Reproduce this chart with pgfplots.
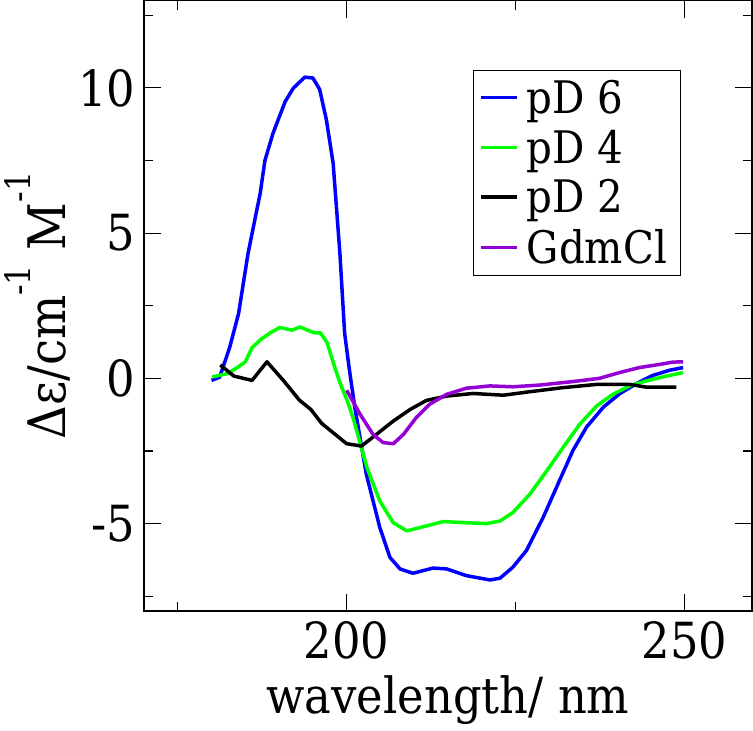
\documentclass[border=0pt]{standalone}
\usepackage{fontspec}
\setmainfont{DejaVu Serif Condensed}
\usepackage{pgfplots}
\pgfplotsset{compat=1.18}
\definecolor{gblue}{RGB}{0,0,255}
\definecolor{ggreen}{RGB}{0,255,0}
\definecolor{gviolet}{RGB}{148,0,211}
\begin{document}
\begin{tikzpicture}
\begin{axis}[
  scale only axis, width=608bp, height=610bp,
  xmin=170, xmax=260, ymin=-8, ymax=13,
  xtick={200,250}, xticklabels={200,250},
  minor xtick={175,225},
  ytick={-5,0,5,10}, yticklabels={-5,0,5,10},
  minor ytick={-7.5,-2.5,2.5,7.5,12.5},
  tick align=inside,
  major tick length=17bp, minor tick length=9bp,
  every tick/.style={black, line width=1.2bp},
  axis line style={line width=1.5bp},
  tick label style={font=\fontsize{50}{50}\selectfont},
  xticklabel style={yshift=-7bp},
  yticklabel style={xshift=-5bp},
  xlabel={wavelength/ nm},
  xlabel style={font=\fontsize{50}{50}\selectfont, inner sep=2bp, yshift=-11bp},
  ylabel={Δε/cm\raisebox{35bp}{\fontsize{35}{35}\selectfont -1} M\raisebox{35bp}{\fontsize{35}{35}\selectfont -1}},
  ylabel style={font=\fontsize{52}{52}\selectfont, inner sep=1bp, yshift=4bp},
  legend style={at={(rel axis cs:0.541,0.887)}, anchor=north west,
    draw=black, line width=1bp, fill=white,
    font=\fontsize{45}{45}\selectfont, inner xsep=6bp, inner ysep=10bp,
    row sep=15bp, nodes={inner xsep=8bp, inner ysep=0bp}},
  legend cell align=left,
  legend image code/.code={\draw[#1, line width=3.5bp] (0bp,0bp) -- (36bp,0bp);},
  every axis plot/.append style={line width=3.5bp, line join=round},
]
% pD 6
\addplot[gblue] coordinates {
(180.0,-0.07) (181.2,0.04) (182.7,1.08) (184.0,2.23) (185.4,4.3) (187.2,6.37)
(187.9,7.5) (189.1,8.44) (190.9,9.53) (192.1,9.99) (193.8,10.37) (195.0,10.34)
(196.0,9.95) (197.0,8.9) (198.0,7.4) (199.0,4.3) (199.7,1.55) (200.4,0.3)
(201.2,-0.99) (202.9,-3.29) (204.9,-5.13) (206.4,-6.16) (207.9,-6.56)
(209.8,-6.71) (212.8,-6.53) (214.8,-6.56) (217.7,-6.79) (221.2,-6.94)
(222.7,-6.88) (224.6,-6.5) (226.6,-5.93) (229.1,-4.78) (231.5,-3.52)
(233.5,-2.48) (235.5,-1.68) (238.0,-0.99) (240.4,-0.53) (242.9,-0.18)
(245.3,0.1) (247.8,0.28) (249.8,0.37)
};
\addlegendentry{pD 6}
% pD 4
\addplot[ggreen] coordinates {
(180.1,0.05) (182.3,0.16) (183.8,0.37) (185.0,0.57) (186.0,1.06) (187.3,1.34)
(188.7,1.57) (190.1,1.75) (191.9,1.66) (193.1,1.77) (194.2,1.66) (195.2,1.57)
(196.1,1.57) (197.1,1.23) (198.1,0.48) (199.1,-0.21) (200.1,-0.78)
(201.0,-1.4) (203.0,-3.07) (204.9,-4.22) (206.9,-4.97) (208.9,-5.25)
(210.8,-5.14) (214.3,-4.93) (217.7,-4.97) (220.7,-5.0) (222.7,-4.91)
(224.6,-4.62) (227.1,-3.99) (229.6,-3.19) (232.0,-2.39) (234.5,-1.58)
(237.0,-0.95) (239.4,-0.55) (241.9,-0.26) (244.3,-0.09) (246.8,0.05) (249.8,0.2)
};
\addlegendentry{pD 4}
% pD 2
\addplot[black] coordinates {
(181.3,0.46) (183.3,0.08) (186.0,-0.07) (188.2,0.57) (190.7,-0.09)
(193.0,-0.75) (194.7,-1.07) (196.3,-1.55) (200.0,-2.25) (202.2,-2.33)
(204.4,-1.93) (206.9,-1.47) (209.4,-1.07) (211.8,-0.76) (214.8,-0.61)
(218.7,-0.52) (223.2,-0.58) (227.1,-0.46) (232.0,-0.32) (236.9,-0.21)
(241.9,-0.21) (244.3,-0.3) (248.8,-0.3)
};
\addlegendentry{pD 2}
% GdmCl
\addplot[gviolet] coordinates {
(200.0,-0.41) (202.0,-1.24) (203.9,-1.93) (205.4,-2.21) (206.9,-2.25)
(208.4,-1.93) (210.3,-1.35) (212.3,-0.89) (214.8,-0.55) (217.7,-0.34)
(221.2,-0.26) (224.6,-0.29) (228.6,-0.23) (233.5,-0.11) (237.4,0.0)
(240.4,0.2) (243.3,0.37) (246.3,0.48) (248.3,0.56) (249.8,0.57)
};
\addlegendentry{GdmCl}
\end{axis}
\pgfresetboundingbox
\path[use as bounding box] ([xshift=-144bp,yshift=-120bp]current axis.south west) rectangle ([xshift=1bp,yshift=0.75bp]current axis.north east);
\end{tikzpicture}
\end{document}
